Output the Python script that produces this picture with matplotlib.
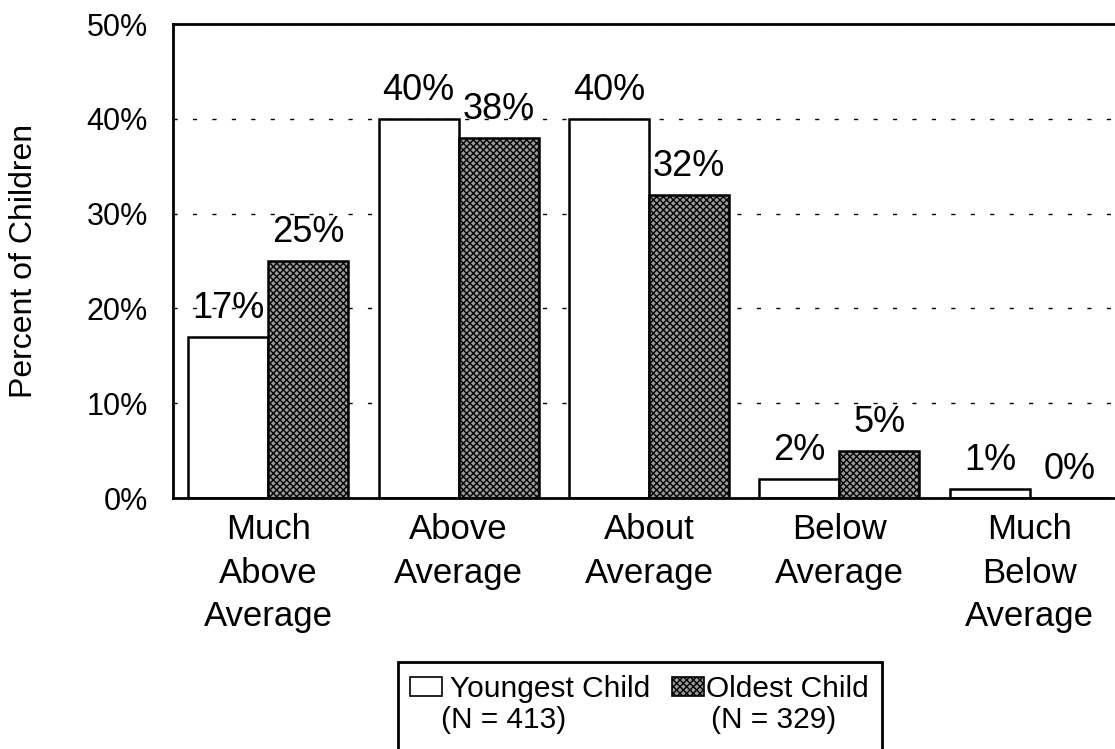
import numpy as np
import matplotlib.pyplot as plt
from matplotlib.patches import Rectangle

plt.rcParams['font.family'] = ['Liberation Sans', 'DejaVu Sans']

categories = ['Much\nAbove\nAverage', 'Above\nAverage', 'About\nAverage',
              'Below\nAverage', 'Much\nBelow\nAverage']
youngest = [17, 40, 40, 2, 1]
oldest = [25, 38, 32, 5, 0]
series_names = ['Youngest Child', 'Oldest Child']
series_n = ['(N = 413)', '(N = 329)']

W, H = 1115, 749
fig = plt.figure(figsize=(W / 100, H / 100), dpi=100)
ax = fig.add_axes([173 / W, 1 - 498 / H, 952 / W, 474 / H])

gray = '#9a9a9a'
hatch = 'xxxxx'

x = np.arange(len(categories))
w = 0.42

b1 = ax.bar(x - w / 2, youngest, w, facecolor='white', edgecolor='black', linewidth=1.8)
b2 = ax.bar(x + w / 2, oldest, w, facecolor=gray, edgecolor='black',
            linewidth=1.8, hatch=hatch)

for bars, vals in ((b1, youngest), (b2, oldest)):
    for rect, v in zip(bars, vals):
        ax.annotate(f'{v}%', (rect.get_x() + rect.get_width() / 2, v),
                    xytext=(0, 13.5), textcoords='offset points',
                    ha='center', va='baseline', fontsize=26)

ax.set_xlim(-0.5, len(categories) - 0.5)
ax.set_ylim(0, 50)
ax.set_yticks(np.arange(0, 51, 10))
ax.set_yticklabels([f'{t}%' for t in range(0, 51, 10)], fontsize=22)
ax.yaxis.grid(True, linestyle=(0, (3, 11)), color='black', linewidth=1)
ax.set_axisbelow(True)
ax.set_xticks(x)
ax.set_xticklabels(categories, fontsize=25, linespacing=1.4)
ax.tick_params(axis='x', length=0, pad=11)
ax.tick_params(axis='y', length=0, pad=18)
ax.set_ylabel('Percent of Children', fontsize=23, labelpad=34)

for side in ('left', 'bottom', 'top'):
    ax.spines[side].set_linewidth(2)
ax.spines['right'].set_visible(False)


# legend drawn by hand so the swatch sits on the first text line
def fx(px):
    return px / W


def fy(py):
    return 1 - py / H


fig.patches.append(Rectangle((fx(398), fy(760)), fx(882) - fx(398), fy(662) - fy(760),
                             transform=fig.transFigure, facecolor='white',
                             edgecolor='black', linewidth=2, zorder=5))
swatches = [(410, 'white', None), (672, gray, hatch)]
text_x = [450, 706]
n_x = [441, 711]
for (sx, fc, ht), tx, nx, name, n in zip(swatches, text_x, n_x, series_names, series_n):
    fig.patches.append(Rectangle((fx(sx), fy(696)), fx(sx + 32) - fx(sx), fy(677) - fy(696),
                                 transform=fig.transFigure, facecolor=fc, hatch=ht,
                                 edgecolor='black', linewidth=1.2, zorder=6))
    fig.text(fx(tx), fy(697), name, fontsize=21.5, ha='left', va='baseline', zorder=7)
    fig.text(fx(nx), fy(728), n, fontsize=21.5, ha='left', va='baseline', zorder=7)

fig.savefig('out.png', dpi=100, facecolor='white')
